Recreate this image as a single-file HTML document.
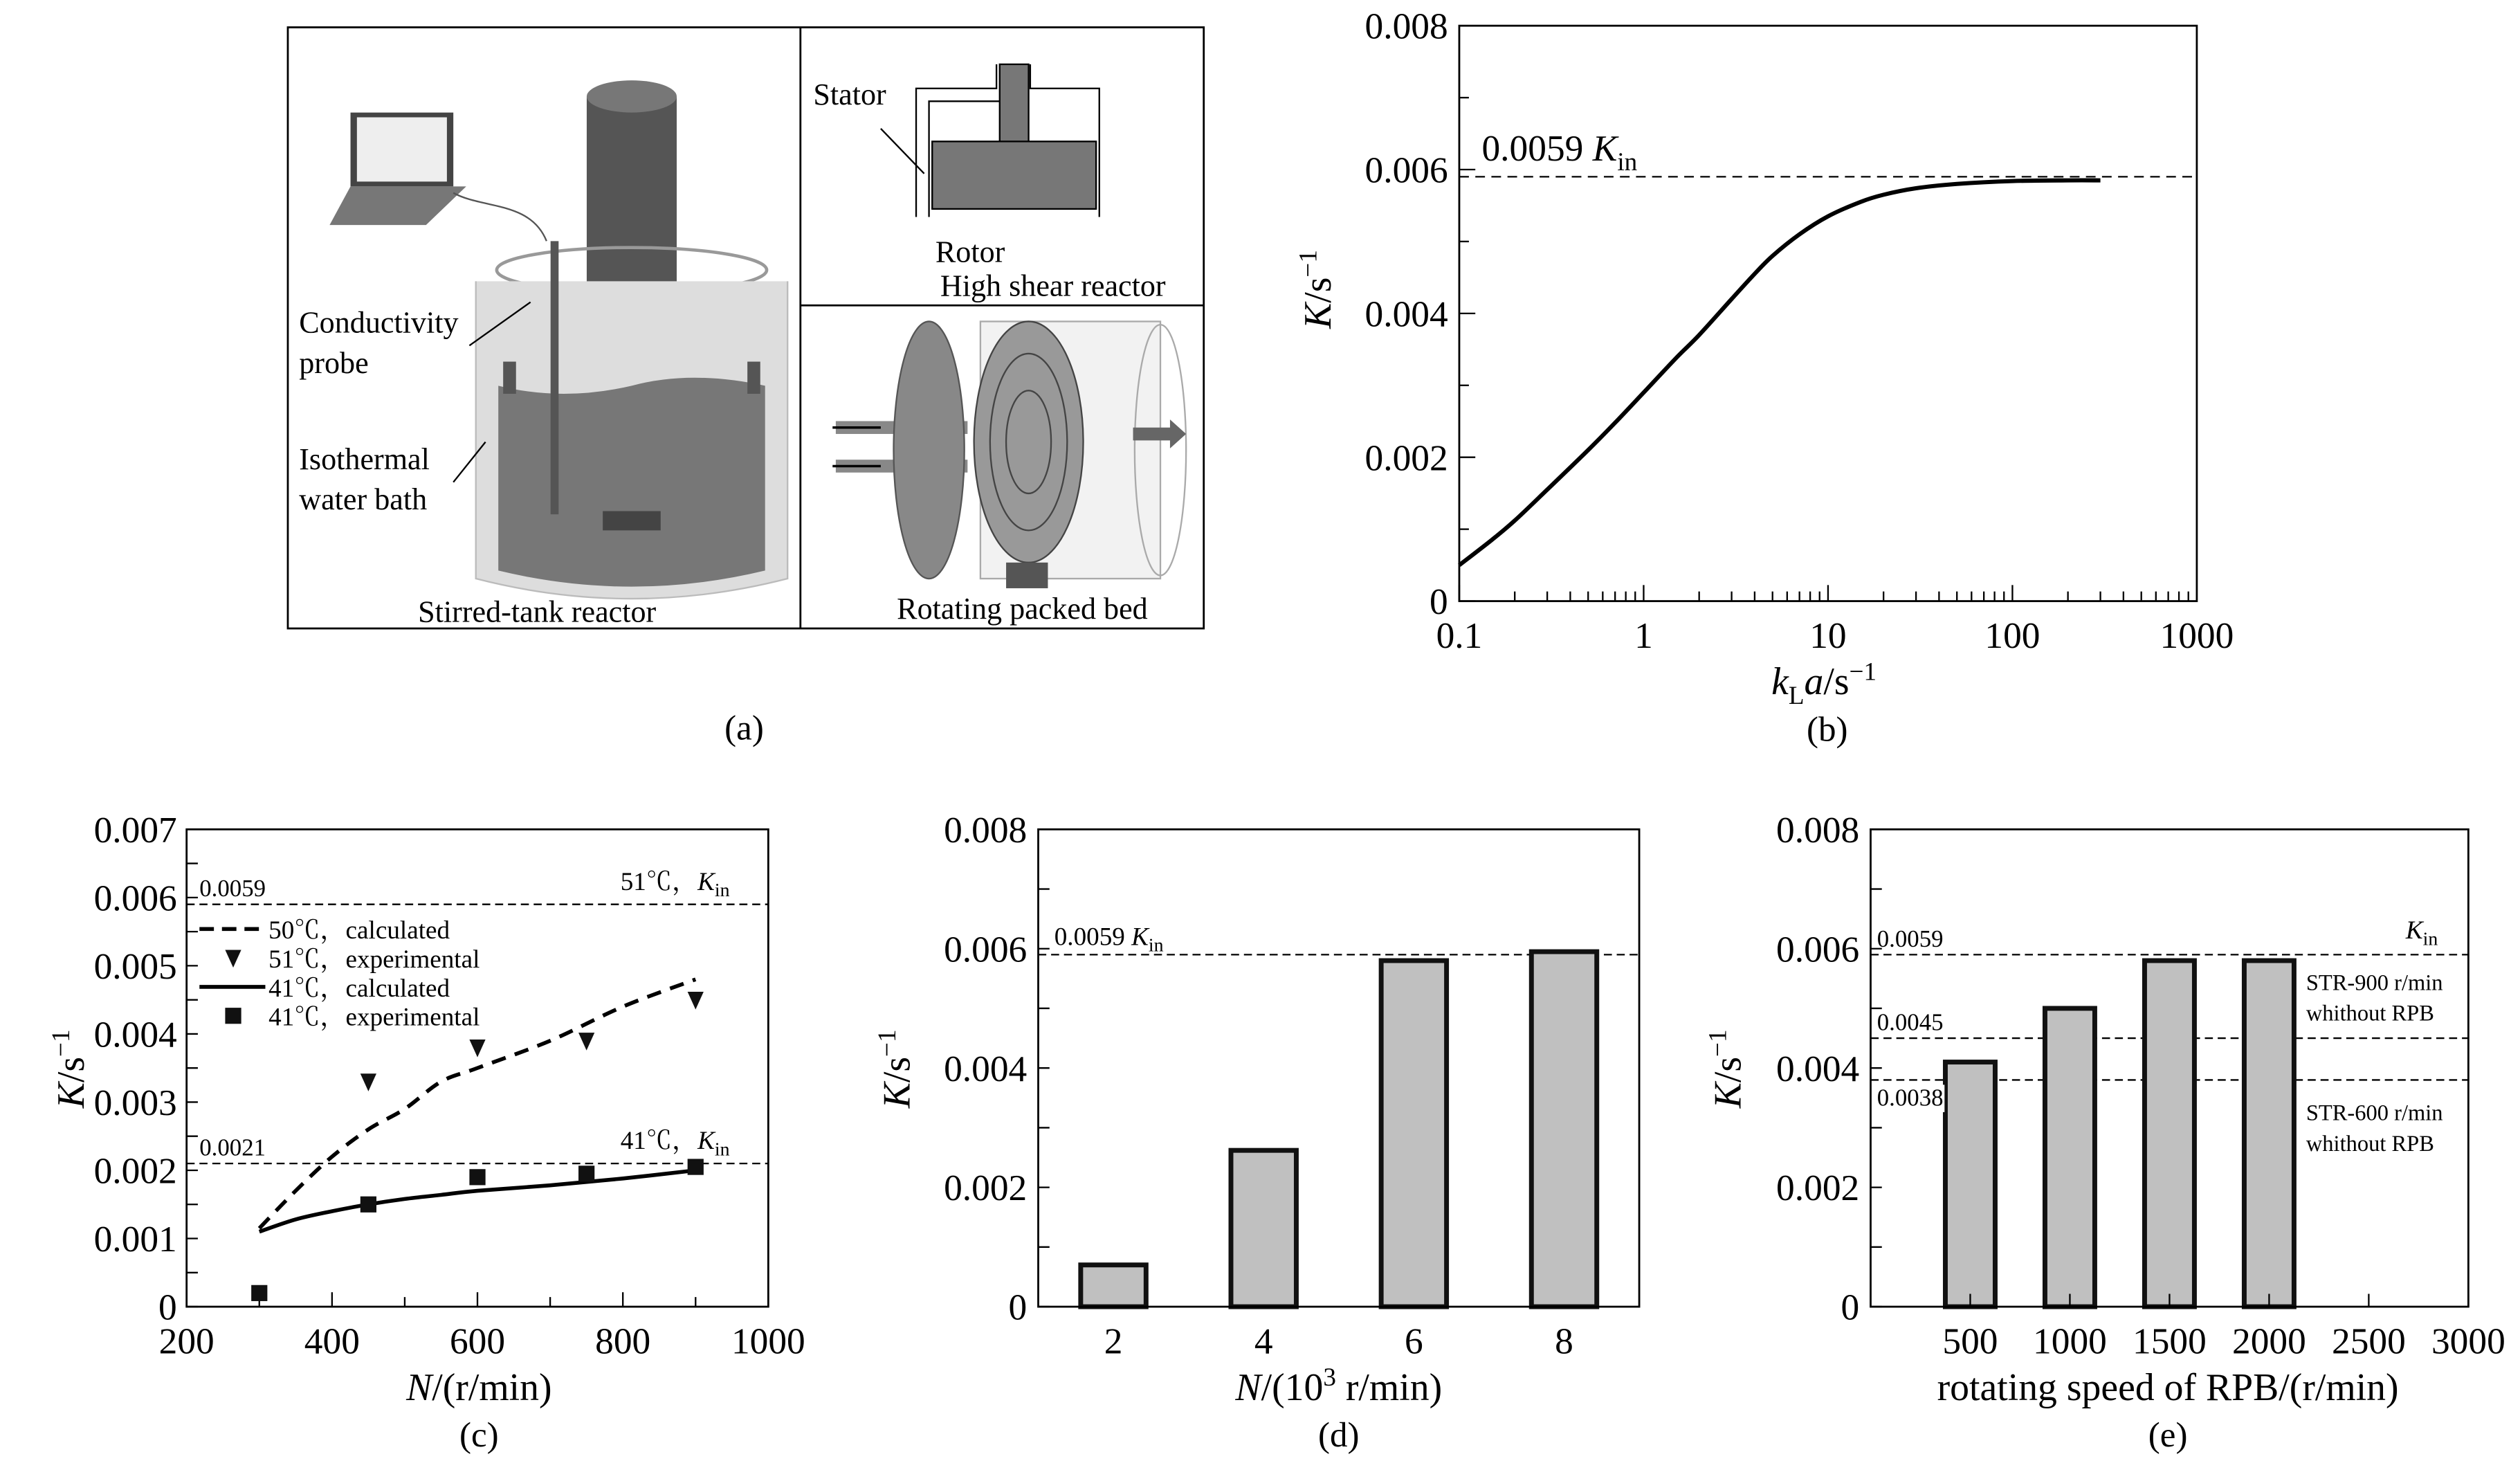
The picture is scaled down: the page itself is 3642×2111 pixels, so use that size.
<!DOCTYPE html>
<html><head><meta charset="utf-8"><style>
html,body{margin:0;padding:0;background:#fff;}
svg, svg text{font-family:"Liberation Serif","Noto Serif CJK SC",serif;}
svg{display:block;}
</style></head><body>
<svg id="fig" width="3642" height="2111" viewBox="0 0 1568 909" xmlns="http://www.w3.org/2000/svg">
<rect width="1568" height="909" fill="#fff"/>
<g>
 <rect x="179" y="17" width="570" height="374" fill="#fff" stroke="#000" stroke-width="1.2"/>
 <line x1="498" y1="17" x2="498" y2="391" stroke="#000" stroke-width="1.2"/>
 <line x1="498" y1="190" x2="749" y2="190" stroke="#000" stroke-width="1.2"/>
 <polygon points="218,70 282,70 282,116 218,116" fill="#444"/>
 <polygon points="222,73 278,73 278,113 222,113" fill="#eee"/>
 <polygon points="205,140 265,140 290,116 218,116" fill="#777"/>
 <path d="M282,120 C300,130 330,125 340,150" fill="none" stroke="#555"/>
 <rect x="365" y="60" width="56" height="150" fill="#555"/>
 <ellipse cx="393" cy="60" rx="28" ry="10" fill="#777"/>
 <line x1="393" y1="210" x2="393" y2="320" stroke="#555" stroke-width="5"/>
 <ellipse cx="393" cy="168" rx="84" ry="14" fill="none" stroke="#999" stroke-width="2"/>
 <path d="M296,175 L296,360 Q393,385 490,360 L490,175" fill="#ddd" stroke="#bbb"/>
 <path d="M310,240 Q350,250 393,240 Q430,230 476,240 L476,355 Q393,375 310,355 Z" fill="#777"/>
 <rect x="313" y="225" width="8" height="20" fill="#555"/>
 <rect x="465" y="225" width="8" height="20" fill="#555"/>
 <line x1="345" y1="150" x2="345" y2="320" stroke="#555" stroke-width="5"/>
 <rect x="375" y="318" width="36" height="12" fill="#444"/>
 <line x1="292" y1="215" x2="330" y2="188" stroke="#000"/>
 <line x1="282" y1="300" x2="302" y2="275" stroke="#000"/>
 <g font-size="19" fill="#000">
  <text x="186" y="207">Conductivity</text>
  <text x="186" y="232">probe</text>
  <text x="186" y="292">Isothermal</text>
  <text x="186" y="317">water bath</text>
  <text x="260" y="387">Stirred-tank reactor</text>
  <text x="506" y="65">Stator</text>
  <text x="582" y="163">Rotor</text>
  <text x="585" y="184">High shear reactor</text>
  <text x="558" y="385">Rotating packed bed</text>
 </g>
 <path d="M570,135 L570,55 L620,55 L620,40 M641,40 L641,55 L684,55 L684,135" fill="none" stroke="#000"/>
 <path d="M578,135 L578,63 L630,63 L630,40" fill="none" stroke="#000"/>
 <rect x="622" y="40" width="18" height="50" fill="#777" stroke="#000"/>
 <rect x="580" y="88" width="102" height="42" fill="#777" stroke="#000"/>
 <line x1="548" y1="80" x2="575" y2="108" stroke="#000"/>
 <rect x="520" y="262" width="82" height="8" fill="#888"/>
 <rect x="520" y="286" width="82" height="8" fill="#888"/>
 <path d="M518,266 L548,266 M518,290 L548,290" stroke="#000" stroke-width="1.5"/>
 <ellipse cx="578" cy="280" rx="22" ry="80" fill="#888" stroke="#555"/>
 <rect x="610" y="200" width="112" height="160" fill="#f2f2f2" stroke="#aaa"/>
 <ellipse cx="640" cy="275" rx="34" ry="75" fill="#999" stroke="#444"/>
 <ellipse cx="640" cy="275" rx="24" ry="55" fill="none" stroke="#444"/>
 <ellipse cx="640" cy="275" rx="14" ry="32" fill="none" stroke="#444"/>
 <ellipse cx="722" cy="280" rx="16" ry="78" fill="none" stroke="#aaa"/>
 <polygon points="705,266 728,266 728,261 738,270 728,279 728,274 705,274" fill="#666"/>
 <rect x="626" y="350" width="26" height="16" fill="#555"/>
</g>
<text x="463" y="460" font-size="22" text-anchor="middle">(a)</text>
<g id="pb"></g>
<g id="pc"></g>
<g id="pd"></g>
<g id="pe"></g>
</svg>
<script>
const bKla = [0.1, 0.15, 0.2, 0.3, 0.5, 0.7, 1, 1.5, 2, 3, 4, 5, 7, 10, 15, 20, 30, 50, 100, 200, 300];
const bK   = [0.0005, 0.00085, 0.00112, 0.00155, 0.0021, 0.00248, 0.0029, 0.00338, 0.0037, 0.0042, 0.00455, 0.0048, 0.0051, 0.00535, 0.00555, 0.00565, 0.00574, 0.0058, 0.00584, 0.00585, 0.00585];
const bYTicks = ["0", "0.002", "0.004", "0.006", "0.008"];
const bXTicks = ["0.1", "1", "10", "100", "1000"];
const cCalcN = [300, 350, 400, 450, 500, 550, 600, 700, 800, 900];
const c50Calc = [0.00115, 0.0017, 0.0022, 0.0026, 0.0029, 0.0033, 0.0035, 0.0039, 0.0044, 0.0048];
const c41Calc = [0.0011, 0.00128, 0.0014, 0.0015, 0.00158, 0.00164, 0.0017, 0.00178, 0.00188, 0.002];
const c51ExpN = [450, 600, 750, 900];
const c51Exp = [0.0033, 0.0038, 0.0039, 0.0045];
const c41ExpN = [300, 450, 600, 750, 900];
const c41Exp = [0.0002, 0.0015, 0.0019, 0.00195, 0.00205];
const cYTicks = ["0", "0.001", "0.002", "0.003", "0.004", "0.005", "0.006", "0.007"];
const cXTicks = ["200", "400", "600", "800", "1000"];
const dCats = [2, 4, 6, 8];
const dVals = [0.0007, 0.00262, 0.0058, 0.00595];
const dYTicks = ["0", "0.002", "0.004", "0.006", "0.008"];
const eSpeeds = [500, 1000, 1500, 2000];
const eVals = [0.0041, 0.005, 0.0058, 0.0058];
const eLines = [0.0059, 0.0045, 0.0038];
const eLineLabels = ["0.0059", "0.0045", "0.0038"];
const eYTicks = ["0", "0.002", "0.004", "0.006", "0.008"];
const eXTicks = ["500", "1000", "1500", "2000", "2500", "3000"];

const NS = "http://www.w3.org/2000/svg";
function mk(parent, tag, attrs, txt) {
  const e = document.createElementNS(NS, tag);
  for (const k in attrs) e.setAttribute(k, attrs[k]);
  if (txt !== undefined) e.textContent = txt;
  parent.appendChild(e);
  return e;
}
function lin(d0, d1, r0, r1) { return v => r0 + (v - d0) * (r1 - r0) / (d1 - d0); }
function smooth(pts) {
  let d = "M" + pts[0][0] + "," + pts[0][1];
  for (let i = 0; i < pts.length - 1; i++) {
    const p0 = pts[Math.max(0, i - 1)], p1 = pts[i], p2 = pts[i + 1], p3 = pts[Math.min(pts.length - 1, i + 2)];
    const c1x = p1[0] + (p2[0] - p0[0]) / 6, c1y = p1[1] + (p2[1] - p0[1]) / 6;
    const c2x = p2[0] - (p3[0] - p1[0]) / 6, c2y = p2[1] - (p3[1] - p1[1]) / 6;
    d += ` C${c1x},${c1y} ${c2x},${c2y} ${p2[0]},${p2[1]}`;
  }
  return d;
}
function ytitle(g, x, y, name) {
  const t = mk(g, "text", {x: x, y: y, "font-size": 24, "text-anchor": "middle", transform: `rotate(-90 ${x} ${y})`});
  
  
  mk(t, "tspan", {"font-style": "italic"}, "K");
  mk(t, "tspan", {}, "/s");
  mk(t, "tspan", {dy: -9, "font-size": 16}, "−1");
}

(function () {
  const g = document.getElementById("pb");
  const L = 908, R = 1367, T = 16, B = 374;
  const x = v => L + (Math.log10(v) + 1) * (R - L) / 4;
  const y = lin(0, 0.008, B, T);
  const frame = mk(g, "rect", {x: L, y: T, width: R - L, height: B - T, fill: "none", stroke: "#000", "stroke-width": 1.2});
  
  
  for (let i = 0; i <= 8; i++) {
    const yy = y(i * 0.001);
    mk(g, "line", {x1: L, x2: L + (i % 2 ? 6 : 10), y1: yy, y2: yy, stroke: "#000"});
  }
  bYTicks.forEach(s => {
    const t = mk(g, "text", {x: L - 7, y: y(+s) + 8, "font-size": 23, "text-anchor": "end"}, s);
    
    
  });
  for (let d = -1; d < 3; d++) for (let m = 1; m <= 9; m++) {
    const xx = x(m * Math.pow(10, d));
    mk(g, "line", {x1: xx, x2: xx, y1: B, y2: B - (m === 1 ? 10 : 6), stroke: "#000"});
  }
  bXTicks.forEach(s => {
    const t = mk(g, "text", {x: x(+s), y: 403, "font-size": 23, "text-anchor": "middle"}, s);
    
    
  });
  const dl = mk(g, "line", {x1: L, x2: R, y1: y(0.0059), y2: y(0.0059), stroke: "#000", "stroke-dasharray": "6,4"});
  
  
  const kt = mk(g, "text", {x: 922, y: 100, "font-size": 23});
  
  
  mk(kt, "tspan", {}, "0.0059 ");
  mk(kt, "tspan", {"font-style": "italic"}, "K");
  mk(kt, "tspan", {dy: 6, "font-size": 16}, "in");
  const p = mk(g, "path", {d: smooth(bKla.map((v, i) => [x(v), y(bK[i])])), fill: "none", stroke: "#000", "stroke-width": 2.6, "stroke-linejoin": "round"});
  
  
  ytitle(g, 828, 180, 'y-axis-title-b');
  const xt = mk(g, "text", {x: 1135, y: 432, "font-size": 24, "text-anchor": "middle"});
  
  
  mk(xt, "tspan", {"font-style": "italic"}, "k");
  mk(xt, "tspan", {dy: 6, "font-size": 16}, "L");
  mk(xt, "tspan", {dy: -6, "font-style": "italic"}, "a");
  mk(xt, "tspan", {}, "/s");
  mk(xt, "tspan", {dy: -9, "font-size": 16}, "−1");
  const lb = mk(g, "text", {x: 1137, y: 461, "font-size": 22, "text-anchor": "middle"}, "(b)");
  
  
})();

(function () {
  const g = document.getElementById("pc");
  const L = 116, R = 478, T = 516, B = 813;
  const x = lin(200, 1000, L, R);
  const y = lin(0, 0.007, B, T);
  const fr = mk(g, "rect", {x: L, y: T, width: R - L, height: B - T, fill: "none", stroke: "#000", "stroke-width": 1.2});
  
  
  for (let i = 0; i <= 14; i++) { const yy = y(i * 0.0005); mk(g, "line", {x1: L, x2: L + 7, y1: yy, y2: yy, stroke: "#000"}); }
  for (let v = 200; v <= 1000; v += 100) mk(g, "line", {x1: x(v), x2: x(v), y1: B, y2: B - (v % 200 ? 6 : 9), stroke: "#000"});
  cYTicks.forEach(s => {
    const t = mk(g, "text", {x: L - 6, y: y(+s) + 8, "font-size": 23, "text-anchor": "end"}, s);
    
    
  });
  cXTicks.forEach(s => {
    const t = mk(g, "text", {x: x(+s), y: 842, "font-size": 23, "text-anchor": "middle"}, s);
    
    
  });
  [[0.0059, "0.0059", "51℃，"], [0.0021, "0.0021", "41℃，"]].forEach(r => {
    const l = mk(g, "line", {x1: L, x2: R, y1: y(r[0]), y2: y(r[0]), stroke: "#000", "stroke-dasharray": "5,3"});
    
    
    mk(g, "text", {x: 124, y: y(r[0]) - 5, "font-size": 15}, r[1]);
    const t = mk(g, "text", {x: 386, y: y(r[0]) - 9, "font-size": 16});
    
    
    mk(t, "tspan", {}, r[2]);
    mk(t, "tspan", {"font-style": "italic"}, "K");
    mk(t, "tspan", {dy: 4, "font-size": 12}, "in");
  });
  const d50 = mk(g, "path", {d: smooth(cCalcN.map((v, i) => [x(v), y(c50Calc[i])])), fill: "none", stroke: "#000", "stroke-width": 2.4, "stroke-dasharray": "9,6"});
  
  
  const d41 = mk(g, "path", {d: smooth(cCalcN.map((v, i) => [x(v), y(c41Calc[i])])), fill: "none", stroke: "#000", "stroke-width": 2.4});
  
  
  c51ExpN.forEach((v, i) => {
    const cx = x(v), cy = y(c51Exp[i]);
    const m = mk(g, "polygon", {points: `${cx - 5},${cy - 5} ${cx + 5},${cy - 5} ${cx},${cy + 6}`, fill: "#111"});
    
    
  });
  c41ExpN.forEach((v, i) => {
    const m = mk(g, "rect", {x: x(v) - 5, y: y(c41Exp[i]) - 5, width: 10, height: 10, fill: "#111"});
    
    
  });
  const lg = mk(g, "g", {"font-size": 16});
  
  
  mk(lg, "line", {x1: 124, x2: 165, y1: 578, y2: 578, stroke: "#000", "stroke-width": 2.4, "stroke-dasharray": "9,5"});
  mk(lg, "text", {x: 167, y: 584}, "50℃，calculated");
  mk(lg, "polygon", {points: "140,591 150,591 145,602", fill: "#111"});
  mk(lg, "text", {x: 167, y: 602}, "51℃，experimental");
  mk(lg, "line", {x1: 124, x2: 165, y1: 614, y2: 614, stroke: "#000", "stroke-width": 2.4});
  mk(lg, "text", {x: 167, y: 620}, "41℃，calculated");
  mk(lg, "rect", {x: 140, y: 627, width: 10, height: 10, fill: "#111"});
  mk(lg, "text", {x: 167, y: 638}, "41℃，experimental");
  ytitle(g, 52, 665, 'y-axis-title-c');
  const xt = mk(g, "text", {x: 298, y: 871, "font-size": 24, "text-anchor": "middle"});
  
  
  mk(xt, "tspan", {"font-style": "italic"}, "N");
  mk(xt, "tspan", {}, "/(r/min)");
  const lb = mk(g, "text", {x: 298, y: 900, "font-size": 22, "text-anchor": "middle"}, "(c)");
  
  
})();

(function () {
  const g = document.getElementById("pd");
  const L = 646, R = 1020, T = 516, B = 813;
  const x = lin(1, 9, L, R);
  const y = lin(0, 0.008, B, T);
  for (let i = 0; i <= 8; i++) { const yy = y(i * 0.001); mk(g, "line", {x1: L, x2: L + 7, y1: yy, y2: yy, stroke: "#000"}); }
  dYTicks.forEach(s => {
    const t = mk(g, "text", {x: L - 7, y: y(+s) + 8, "font-size": 23, "text-anchor": "end"}, s);
    
    
  });
  const l = mk(g, "line", {x1: L, x2: R, y1: y(0.0059), y2: y(0.0059), stroke: "#000", "stroke-dasharray": "5,3"});
  
  
  const kt = mk(g, "text", {x: 656, y: y(0.0059) - 6, "font-size": 16});
  
  
  mk(kt, "tspan", {}, "0.0059 ");
  mk(kt, "tspan", {"font-style": "italic"}, "K");
  mk(kt, "tspan", {dy: 4, "font-size": 12}, "in");
  const bw = 0.87 * (x(2) - x(1));
  dCats.forEach((c, i) => {
    const b = mk(g, "rect", {x: x(c) - bw / 2, y: y(dVals[i]), width: bw, height: B - y(dVals[i]), fill: "#c0c0c0", stroke: "#111", "stroke-width": 3});
    
    
    const t = mk(g, "text", {x: x(c), y: 842, "font-size": 23, "text-anchor": "middle"}, String(c));
    
    
  });
  const fr = mk(g, "rect", {x: L, y: T, width: R - L, height: B - T, fill: "none", stroke: "#000", "stroke-width": 1.2});
  
  
  ytitle(g, 566, 665, 'y-axis-title-d');
  const xt = mk(g, "text", {x: 833, y: 871, "font-size": 24, "text-anchor": "middle"});
  
  
  mk(xt, "tspan", {"font-style": "italic"}, "N");
  mk(xt, "tspan", {}, "/(10");
  mk(xt, "tspan", {dy: -9, "font-size": 16}, "3");
  mk(xt, "tspan", {dy: 9}, " r/min)");
  const lb = mk(g, "text", {x: 833, y: 900, "font-size": 22, "text-anchor": "middle"}, "(d)");
  
  
})();

(function () {
  const g = document.getElementById("pe");
  const L = 1164, R = 1536, T = 516, B = 813;
  const x = lin(0, 3000, L, R);
  const y = lin(0, 0.008, B, T);
  for (let i = 0; i <= 8; i++) { const yy = y(i * 0.001); mk(g, "line", {x1: L, x2: L + 7, y1: yy, y2: yy, stroke: "#000"}); }
  eYTicks.forEach(s => {
    const t = mk(g, "text", {x: L - 7, y: y(+s) + 8, "font-size": 23, "text-anchor": "end"}, s);
    
    
  });
  eLines.forEach((v, i) => {
    const l = mk(g, "line", {x1: L, x2: R, y1: y(v), y2: y(v), stroke: "#000", "stroke-dasharray": "5,3"});
    
    
  });
  const bw = 250 * (R - L) / 3000;
  eSpeeds.forEach((s, i) => {
    const b = mk(g, "rect", {x: x(s) - bw / 2, y: y(eVals[i]), width: bw, height: B - y(eVals[i]), fill: "#c0c0c0", stroke: "#111", "stroke-width": 3});
    
    
  });
  eXTicks.forEach(s => {
    mk(g, "line", {x1: x(+s), x2: x(+s), y1: B, y2: B - 8, stroke: "#000"});
    const t = mk(g, "text", {x: x(+s), y: 842, "font-size": 23, "text-anchor": "middle"}, s);
    
    
  });
  eLineLabels.forEach((s, i) => {
    const yy = i === 2 ? y(eLines[i]) + 16 : y(eLines[i]) - 5;
    if (i === 2) mk(g, "rect", {x: 1166, y: y(eLines[i]) + 3, width: 44, height: 17, fill: "#fff"});
    const t = mk(g, "text", {x: 1168, y: yy, "font-size": 15}, s);
    
    
  });
  const k = mk(g, "text", {x: 1497, y: y(0.0059) - 10, "font-size": 16});
  
  
  mk(k, "tspan", {"font-style": "italic"}, "K");
  mk(k, "tspan", {dy: 4, "font-size": 12}, "in");
  const a1 = mk(g, "text", {x: 1435, y: 616, "font-size": 14}, "STR-900 r/min");
  
  
  mk(g, "text", {x: 1435, y: 635, "font-size": 14}, "whithout RPB");
  const a2 = mk(g, "text", {x: 1435, y: 697, "font-size": 14}, "STR-600 r/min");
  
  
  mk(g, "text", {x: 1435, y: 716, "font-size": 14}, "whithout RPB");
  const fr = mk(g, "rect", {x: L, y: T, width: R - L, height: B - T, fill: "none", stroke: "#000", "stroke-width": 1.2});
  
  
  ytitle(g, 1083, 665, 'y-axis-title-e');
  const xt = mk(g, "text", {x: 1349, y: 871, "font-size": 24, "text-anchor": "middle"}, "rotating speed of RPB/(r/min)");
  
  
  const lb = mk(g, "text", {x: 1349, y: 900, "font-size": 22, "text-anchor": "middle"}, "(e)");
  
  
})();
</script>
</body></html>
